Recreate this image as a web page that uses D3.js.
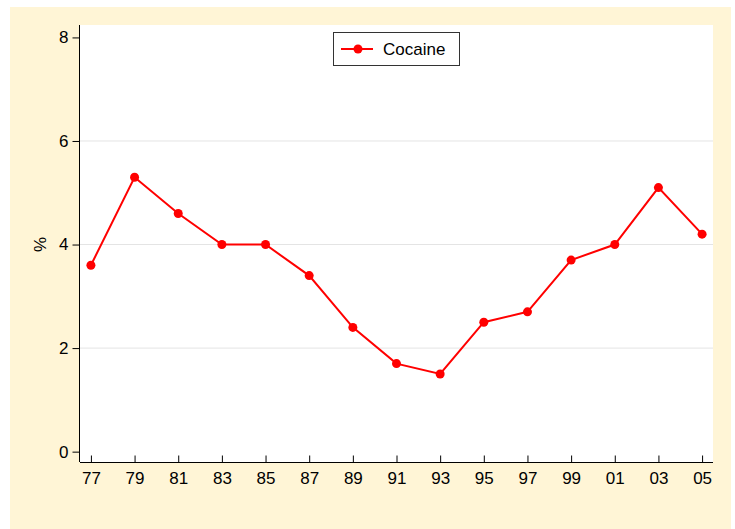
<!DOCTYPE html>
<html>
<head>
<meta charset="utf-8">
<script src="https://cdn.jsdelivr.net/npm/d3@7"></script>
<style>
  body { margin: 0; background: #fff; }
  svg { display: block; font-family: "Liberation Sans", Arial, sans-serif; }
</style>
</head>
<body>
<div id="chart"></div>
<script>
// Survey years (two-digit labels) and cocaine prevalence (%)
const years = [77, 79, 81, 83, 85, 87, 89, 91, 93, 95, 97, 99, 101, 103, 105];
const yearLabels = ["77", "79", "81", "83", "85", "87", "89", "91", "93", "95", "97", "99", "01", "03", "05"];
const cocaine = [3.6, 5.3, 4.6, 4.0, 4.0, 3.4, 2.4, 1.7, 1.5, 2.5, 2.7, 3.7, 4.0, 5.1, 4.2];
const yTicks = [0, 2, 4, 6, 8];
const gridValues = [2, 4, 6];
const seriesName = "Cocaine";

const W = 735, H = 529;
const FS = 17;
const svg = d3.select("#chart").append("svg")
    .attr("width", W)
    .attr("height", H);

// Outer background
svg.append("rect")
    .attr("x", 10).attr("y", 7)
    .attr("width", 721).attr("height", 522)
    .attr("fill", "#fff5d6");

const plot = {left: 80, right: 713, top: 25, bottom: 462};

svg.append("rect")
    .attr("x", plot.left).attr("y", plot.top)
    .attr("width", plot.right - plot.left)
    .attr("height", plot.bottom - plot.top)
    .attr("fill", "#fff");

const x = d3.scaleLinear()
    .domain([76.5, 105.5])
    .range([plot.left, plot.right]);

const y = d3.scaleLinear()
    .domain([-0.2, 8.24])
    .range([plot.bottom, plot.top]);

// Gridlines
svg.selectAll(".grid")
    .data(gridValues)
    .enter()
    .append("line")
    .attr("x1", plot.left)
    .attr("x2", plot.right)
    .attr("y1", d => y(d))
    .attr("y2", d => y(d))
    .attr("stroke", "#e4e4e4")
    .attr("stroke-width", 1);

// Y axis
const yAxis = svg.append("g")
    .attr("transform", `translate(${plot.left - 0.5},0)`)
    .call(d3.axisLeft(y).tickValues(yTicks).tickSize(7).tickPadding(4).tickSizeOuter(0));
yAxis.select(".domain").attr("d", `M0,${plot.top}V${plot.bottom}`).attr("stroke", "#000");
yAxis.selectAll("line").attr("stroke", "#000");
yAxis.selectAll("text").attr("font-size", FS).attr("fill", "#000").attr("font-family", "Liberation Sans, Arial, sans-serif");

// X axis
const xAxis = svg.append("g")
    .attr("transform", `translate(0,${plot.bottom + 0.5})`)
    .call(d3.axisBottom(x).tickValues(years).tickFormat((d, i) => yearLabels[i]).tickSize(7).tickPadding(2).tickSizeOuter(0));
xAxis.select(".domain").attr("d", `M${plot.left},0H${plot.right}`).attr("stroke", "#000");
xAxis.selectAll(".tick line").attr("y1", -7).attr("y2", 0).attr("stroke", "#000");
xAxis.selectAll("text").attr("font-size", FS).attr("fill", "#000").attr("font-family", "Liberation Sans, Arial, sans-serif");

// Y axis title
svg.append("text")
    .attr("transform", `translate(46,${y(4)}) rotate(-90)`)
    .attr("text-anchor", "middle")
    .attr("font-size", FS)
    .text("%");

// Series line
const line = d3.line()
    .x((d, i) => x(years[i]))
    .y(d => y(d));

svg.append("path")
    .datum(cocaine)
    .attr("fill", "none")
    .attr("stroke", "#ff0000")
    .attr("stroke-width", 2)
    .attr("d", line);

svg.selectAll(".dot")
    .data(cocaine)
    .enter()
    .append("circle")
    .attr("class", "dot")
    .attr("cx", (d, i) => x(years[i]))
    .attr("cy", d => y(d))
    .attr("r", 4.5)
    .attr("fill", "#ff0000");

// Legend
const legend = svg.append("g").attr("transform", "translate(333,32)");
legend.append("rect")
    .attr("x", 0.5).attr("y", 0.5)
    .attr("width", 126).attr("height", 33)
    .attr("fill", "#fff")
    .attr("stroke", "#333")
    .attr("stroke-width", 1);
legend.append("line")
    .attr("x1", 8).attr("x2", 40)
    .attr("y1", 17).attr("y2", 17)
    .attr("stroke", "#ff0000")
    .attr("stroke-width", 2);
legend.append("circle")
    .attr("cx", 25).attr("cy", 17).attr("r", 4.5)
    .attr("fill", "#ff0000");
legend.append("text")
    .attr("x", 50).attr("y", 23)
    .attr("font-size", FS)
    .text(seriesName);
</script>
</body>
</html>
